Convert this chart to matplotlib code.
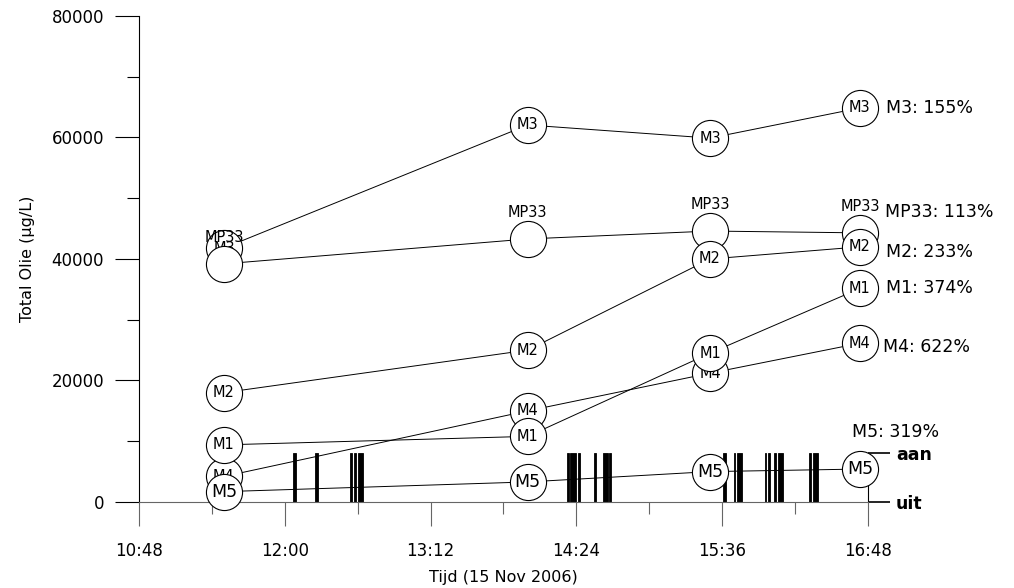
import matplotlib
matplotlib.use("Agg")
import matplotlib.pyplot as plt
import matplotlib.dates as mdates
import pandas as pd

plt.rcParams['font.family'] = ['DejaVu Sans']

datum = "2006-11-15"

# meetmomenten
tijden = ["11:30", "14:00", "15:30", "16:44"]

# Total olie per meetpunt (ug/L); volgorde = tekenvolgorde
m4 = [4200, 15000, 21200, 26130]
m3 = [41800, 62060, 59900, 64860]
mp33 = [39200, 43300, 44600, 44300]
m1 = [9400, 10800, 24500, 35150]
m2 = [18000, 25000, 40000, 42000]
m5 = [1700, 3300, 5000, 5420]

namen = ["M4", "M3", "MP33", "M1", "M2", "M5"]
waarden = [m4, m3, mp33, m1, m2, m5]

# pomp aan/uit
pomp_start = ["12:03:57", "12:15:08", "12:32:24", "12:34:22", "12:36:00",
              "14:19:13", "14:21:02", "14:24:50", "14:32:53", "14:37:19", "14:40:08",
              "15:36:29", "15:41:55", "15:43:33", "15:57:04", "15:58:41",
              "16:01:47", "16:03:46", "16:18:46", "16:20:44"]
pomp_stop = ["12:05:25", "12:16:16", "12:33:23", "12:35:10", "12:38:49",
             "14:20:13", "14:23:51", "14:25:49", "14:33:43", "14:39:26", "14:40:55",
             "15:37:49", "15:42:34", "15:45:43", "15:57:51", "15:59:31",
             "16:02:29", "16:06:05", "16:19:44", "16:23:29"]

# opmaak van de labels per reeks: (fontsize in cirkel, dy label, dx/dy eindlabel)
stijl = {
    "M4": (10.5, 0, 17, -3),
    "M3": (10.5, 0, 19, 0),
    "MP33": (10.5, 19, 18, 15),
    "M1": (10.5, 0, 19, 0),
    "M2": (10.5, 0, 19, -4),
    "M5": (12.5, 0, -6, 27),
}

t = mdates.date2num(pd.to_datetime([f"{datum} {x}" for x in tijden]))

fig = plt.figure(figsize=(10.14, 5.88), dpi=100)
ax = fig.add_axes([0.137, 0.1463, 0.719, 0.8265])
ax2 = ax.twinx()

# pompbalken op de tweede as
ps = mdates.date2num(pd.to_datetime([f"{datum} {x}" for x in pomp_start]))
pe = mdates.date2num(pd.to_datetime([f"{datum} {x}" for x in pomp_stop]))
ax2.bar(ps, 1, width=pe - ps, align='edge', color='black', edgecolor='black', lw=0.6)
ax2.set_ylim(0, 9.92)
ax2.set_yticks([0, 1])
ax2.set_yticklabels(["uit", "aan"], fontweight='bold', fontsize=12.5)
ax2.tick_params(axis='y', direction='out', length=16, width=1.2, pad=4)
for s in ["top", "left", "bottom"]:
    ax2.spines[s].set_visible(False)
ax2.spines["right"].set_bounds(0, 1)
ax2.spines["right"].set_linewidth(0.8)

ax.set_zorder(ax2.get_zorder() + 1)
ax.patch.set_visible(False)

for i, (naam, v) in enumerate(zip(namen, waarden)):
    fs, dy, ex, ey = stijl[naam]
    ax.plot(t, v, color='black', lw=0.7, zorder=2, clip_on=False)
    ax.plot(t, v, 'o', ms=26, mfc='white', mec='black', mew=0.8, ls='none',
            zorder=3 + 2 * i, clip_on=False)
    for x, y in zip(t, v):
        ax.annotate(naam, (x, y), xytext=(0, dy), textcoords='offset points',
                    ha='center', va='center', fontsize=fs, zorder=4 + 2 * i)
    pct = round(v[-1] / v[0] * 100)
    ax.annotate(f"{naam}: {pct}%", (t[-1], v[-1]), xytext=(ex, ey),
                textcoords='offset points', ha='left', va='center',
                fontsize=12.5, annotation_clip=False, zorder=20)

xmaj = pd.date_range(f"{datum} 10:48", f"{datum} 16:48", freq="72min")
xmin = pd.date_range(f"{datum} 10:48", f"{datum} 16:48", freq="36min")
ax.set_xlim(mdates.date2num(xmaj[0]), mdates.date2num(xmaj[-1]))
ax.set_xticks(mdates.date2num(xmaj))
ax.set_xticks(mdates.date2num(xmin), minor=True)
ax.xaxis.set_major_formatter(mdates.DateFormatter("%H:%M"))

ax.set_ylim(0, 80000)
ax.set_yticks(range(0, 80001, 20000))
ax.set_yticks(range(0, 80001, 10000), minor=True)

ax.spines["top"].set_visible(False)
ax.spines["right"].set_visible(False)
ax.spines["left"].set_linewidth(0.8)
ax.spines["bottom"].set_linewidth(0.8)
ax.spines["bottom"].set_color('0.4')
ax.tick_params(which='major', direction='out', length=17, width=0.8, labelsize=12)
ax.tick_params(which='minor', direction='out', length=8.5, width=0.8)
ax.tick_params(axis='x', which='both', color='0.4')
ax.tick_params(axis='x', pad=12)
ax.tick_params(axis='y', pad=8)

ax.set_xlabel("Tijd (15 Nov 2006)", fontsize=11.5, labelpad=7)
ax.set_ylabel("Total Olie (µg/L)", fontsize=11.5, labelpad=12)

fig.savefig("out.png", dpi=100)
